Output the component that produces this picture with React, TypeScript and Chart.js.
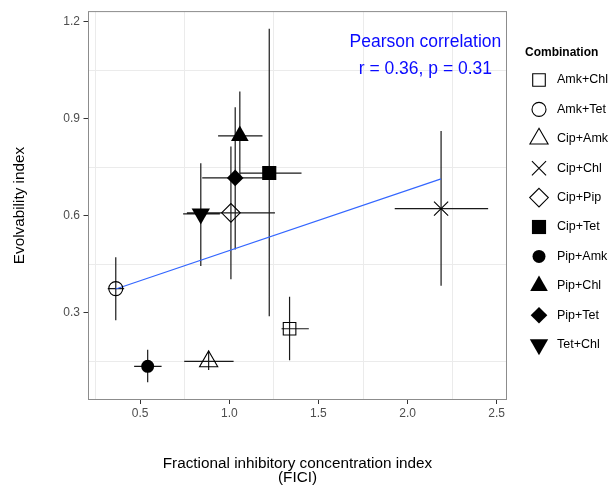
import React, { useEffect, useRef } from 'react';
import { Chart, registerables } from 'chart.js';

Chart.register(...registerables);

const FONT = "'Liberation Sans', Arial, Helvetica, sans-serif";

// ---- data ----
const combinations = ['Amk+Chl', 'Amk+Tet', 'Cip+Amk', 'Cip+Chl', 'Cip+Pip', 'Cip+Tet', 'Pip+Amk', 'Pip+Chl', 'Pip+Tet', 'Tet+Chl'];
const fici = [1.338, 0.363, 0.884, 2.188, 1.009, 1.224, 0.542, 1.059, 1.033, 0.840];
const ficiLow = [1.293, 0.318, 0.747, 1.928, 0.762, 1.062, 0.466, 0.937, 0.848, 0.741];
const ficiHigh = [1.446, 0.410, 1.024, 2.452, 1.256, 1.405, 0.620, 1.186, 1.218, 0.947];
const evol = [0.251, 0.375, 0.150, 0.622, 0.609, 0.732, 0.135, 0.847, 0.717, 0.606];
const evolLow = [0.154, 0.277, 0.124, 0.384, 0.404, 0.290, 0.086, 0.720, 0.496, 0.445];
const evolHigh = [0.350, 0.472, 0.183, 0.862, 0.814, 1.178, 0.186, 0.984, 0.935, 0.762];

// linear fit endpoints
const fitX = [0.363, 2.188];
const fitY = [0.374, 0.714];

const xTickValues = [0.25, 0.5, 0.75, 1.0, 1.25, 1.5, 1.75, 2.0, 2.25, 2.5];
const yTickValues = [0.15, 0.3, 0.45, 0.6, 0.75, 0.9, 1.05, 1.2];
const xMajorStep = 0.5;
const yMajorStep = 0.3;

const annotationLines = ['Pearson correlation', 'r = 0.36, p = 0.31'];
const annotationX = 2.1;
const annotationY = [1.12, 1.039];

const legendTitle = 'Combination';

// ---- styles ----
type Shape = 'square' | 'circle' | 'triangle' | 'cross' | 'diamond' | 'triangleDown';
const markerStyle: Record<string, { shape: Shape; filled: boolean; r: number }> = {
  'Amk+Chl': { shape: 'square', filled: false, r: 8.9 },
  'Amk+Tet': { shape: 'circle', filled: false, r: 7 },
  'Cip+Amk': { shape: 'triangle', filled: false, r: 10.5 },
  'Cip+Chl': { shape: 'cross', filled: false, r: 10 },
  'Cip+Pip': { shape: 'diamond', filled: false, r: 9.3 },
  'Cip+Tet': { shape: 'square', filled: true, r: 10 },
  'Pip+Amk': { shape: 'circle', filled: true, r: 6.5 },
  'Pip+Chl': { shape: 'triangle', filled: true, r: 10.2 },
  'Pip+Tet': { shape: 'diamond', filled: true, r: 8.3 },
  'Tet+Chl': { shape: 'triangleDown', filled: true, r: 10.6 },
};
const cjStyle: Record<Shape, string> = {
  square: 'rect', circle: 'circle', triangle: 'triangle', cross: 'crossRot', diamond: 'rectRot', triangleDown: 'triangle',
};

const isMultiple = (v: number, step: number) => Math.abs(v / step - Math.round(v / step)) < 1e-6;

function drawMarker(ctx: CanvasRenderingContext2D, shape: Shape, filled: boolean, x: number, y: number, r: number) {
  ctx.beginPath();
  switch (shape) {
    case 'square': {
      const s = Math.SQRT1_2 * r;
      ctx.rect(x - s, y - s, 2 * s, 2 * s);
      break;
    }
    case 'circle':
      ctx.arc(x, y, r, 0, Math.PI * 2);
      break;
    case 'triangle':
    case 'triangleDown': {
      const base = shape === 'triangle' ? 0 : Math.PI;
      for (let k = 0; k < 3; k++) {
        const a = base + (k * 2 * Math.PI) / 3;
        const px = x + Math.sin(a) * r;
        const py = y - Math.cos(a) * r;
        if (k === 0) ctx.moveTo(px, py);
        else ctx.lineTo(px, py);
      }
      ctx.closePath();
      break;
    }
    case 'diamond':
      ctx.moveTo(x, y - r);
      ctx.lineTo(x + r, y);
      ctx.lineTo(x, y + r);
      ctx.lineTo(x - r, y);
      ctx.closePath();
      break;
    case 'cross': {
      const d = r * Math.SQRT1_2;
      ctx.moveTo(x - d, y - d);
      ctx.lineTo(x + d, y + d);
      ctx.moveTo(x + d, y - d);
      ctx.lineTo(x - d, y + d);
      break;
    }
  }
  if (filled) {
    ctx.fillStyle = '#000';
    ctx.fill();
  } else {
    ctx.strokeStyle = '#000';
    ctx.lineWidth = 1.1;
    ctx.stroke();
  }
}

const panelPlugin = {
  id: 'panel',
  beforeDatasetsDraw(chart: any) {
    const { ctx, chartArea, scales } = chart;
    const { x, y } = scales;
    ctx.save();
    ctx.strokeStyle = '#8c8c8c';
    ctx.lineWidth = 1;
    ctx.strokeRect(chartArea.left, chartArea.top, chartArea.right - chartArea.left, chartArea.bottom - chartArea.top);
    ctx.strokeStyle = '#1a1a1a';
    ctx.lineWidth = 1.2;
    ctx.beginPath();
    for (let i = 0; i < combinations.length; i++) {
      const px = x.getPixelForValue(fici[i]);
      const py = y.getPixelForValue(evol[i]);
      ctx.moveTo(x.getPixelForValue(ficiLow[i]), py);
      ctx.lineTo(x.getPixelForValue(ficiHigh[i]), py);
      ctx.moveTo(px, y.getPixelForValue(evolLow[i]));
      ctx.lineTo(px, y.getPixelForValue(evolHigh[i]));
    }
    ctx.stroke();
    ctx.restore();
  },
  afterDatasetsDraw(chart: any) {
    const { ctx, scales } = chart;
    const { x, y } = scales;
    ctx.save();
    ctx.fillStyle = '#0a0aff';
    ctx.font = `17.5px ${FONT}`;
    ctx.textAlign = 'center';
    ctx.textBaseline = 'alphabetic';
    annotationLines.forEach((t, i) => {
      ctx.fillText(t, x.getPixelForValue(annotationX), y.getPixelForValue(annotationY[i]));
    });
    ctx.restore();
  },
  afterDraw(chart: any) {
    const { ctx, chartArea } = chart;
    ctx.save();
    const lx = chartArea.right + 18.5;
    ctx.fillStyle = '#000';
    ctx.font = `bold 12px ${FONT}`;
    ctx.textAlign = 'left';
    ctx.textBaseline = 'middle';
    ctx.fillText(legendTitle, lx, 52.5);
    ctx.font = `12.5px ${FONT}`;
    combinations.forEach((c, i) => {
      const cy = 80 + i * 29.4;
      const m = markerStyle[c];
      drawMarker(ctx, m.shape, m.filled, lx + 14, cy, m.r);
      ctx.fillStyle = '#000';
      ctx.fillText(c, lx + 32, cy);
    });
    ctx.restore();
  },
};

export default function App() {
  const ref = useRef<HTMLCanvasElement>(null);
  useEffect(() => {
    document.body.style.margin = '0';
    const canvas = ref.current;
    if (!canvas) return;
    Chart.defaults.font.family = FONT;
    const chart = new Chart(canvas, {
      type: 'scatter',
      data: {
        datasets: [
          {
            label: 'Combination',
            data: combinations.map((_, i) => ({ x: fici[i], y: evol[i] })),
            pointStyle: combinations.map((c) => cjStyle[markerStyle[c].shape]) as any,
            pointRotation: combinations.map((c) => (markerStyle[c].shape === 'triangleDown' ? 180 : 0)),
            pointRadius: combinations.map((c) => markerStyle[c].r),
            pointHoverRadius: combinations.map((c) => markerStyle[c].r),
            pointBackgroundColor: combinations.map((c) => (markerStyle[c].filled ? '#000' : 'rgba(0,0,0,0)')),
            pointBorderColor: '#000',
            pointBorderWidth: combinations.map((c) => (markerStyle[c].filled ? 0 : 1.1)),
          } as any,
          {
            label: 'fit',
            data: fitX.map((v, i) => ({ x: v, y: fitY[i] })),
            showLine: true,
            borderColor: '#3366ff',
            borderWidth: 1.1,
            pointRadius: 0,
            fill: false,
          } as any,
        ],
      },
      options: {
        animation: false,
        responsive: true,
        maintainAspectRatio: false,
        layout: { padding: { top: 7.5, right: 102.5, left: 0, bottom: 0 } },
        plugins: { legend: { display: false }, tooltip: { enabled: false } },
        scales: {
          x: {
            type: 'linear',
            min: 0.21,
            max: 2.555,
            afterBuildTicks: (axis: any) => {
              axis.ticks = xTickValues.map((v) => ({ value: v }));
            },
            afterFit: (s: any) => {
              s.height = 86.5;
            },
            border: { display: false },
            grid: {
              color: (ctx: any) => (isMultiple(ctx.tick.value, xMajorStep) ? 'rgba(0,0,0,0)' : '#ebebeb'),
              tickColor: (ctx: any) => (isMultiple(ctx.tick.value, xMajorStep) ? '#333333' : 'rgba(0,0,0,0)'),
              tickLength: 4.5,
              lineWidth: 1,
            },
            ticks: {
              autoSkip: false,
              maxRotation: 0,
              padding: 2.5,
              color: '#4d4d4d',
              font: { size: 12, family: FONT },
              callback: (v: any) => (isMultiple(Number(v), xMajorStep) ? Number(v).toFixed(1) : ''),
            },
            title: {
              display: true,
              text: ['Fractional inhibitory concentration index', '(FICI)'],
              color: '#000',
              font: { size: 15.3, family: FONT, lineHeight: 14 / 15.3 },
              padding: { top: 0, bottom: 1.5 },
            },
          },
          y: {
            type: 'linear',
            min: 0.0325,
            max: 1.2306,
            afterBuildTicks: (axis: any) => {
              axis.ticks = yTickValues.map((v) => ({ value: v }));
            },
            afterFit: (s: any) => {
              s.width = 88.5;
            },
            border: { display: false },
            grid: {
              color: (ctx: any) => (isMultiple(ctx.tick.value, yMajorStep) ? 'rgba(0,0,0,0)' : '#ebebeb'),
              tickColor: (ctx: any) => (isMultiple(ctx.tick.value, yMajorStep) ? '#333333' : 'rgba(0,0,0,0)'),
              tickLength: 5,
              lineWidth: 1,
            },
            ticks: {
              autoSkip: false,
              padding: 3.5,
              color: '#4d4d4d',
              font: { size: 12, family: FONT },
              callback: (v: any) => (isMultiple(Number(v), yMajorStep) ? Number(v).toFixed(1) : ''),
            },
            title: {
              display: true,
              text: 'Evolvability index',
              color: '#000',
              font: { size: 15.3, family: FONT, lineHeight: 1.2 },
              padding: { top: 11, bottom: 0 },
            },
          },
        },
      } as any,
      plugins: [panelPlugin],
    });
    return () => chart.destroy();
  }, []);
  return (
    <div style={{ width: 609, height: 486, position: 'relative' }}>
      <canvas ref={ref} />
    </div>
  );
}
